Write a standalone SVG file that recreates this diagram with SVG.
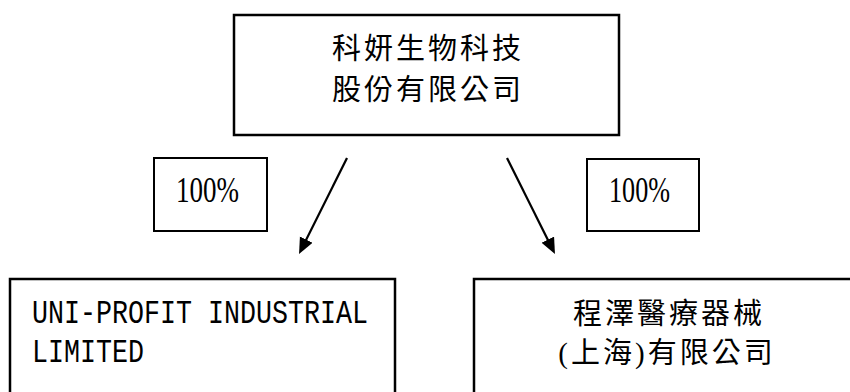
<svg xmlns="http://www.w3.org/2000/svg" width="850" height="392" viewBox="0 0 850 392">
<style>
.box{fill:#fff;stroke:#000;stroke-width:2.5}
.pbox{fill:#fff;stroke:#000;stroke-width:2}
.cjk{font-family:"Liberation Serif","Noto Sans CJK TC",serif;font-size:29px;letter-spacing:3px;fill:#000;text-anchor:middle}
.pct{font-family:"Liberation Serif",serif;font-size:36px;fill:#000}
.mono{font-family:"Liberation Mono",monospace;font-size:33px;fill:#000}
.conn{stroke:#000;stroke-width:2.2;fill:none}
</style>
<defs>
<marker id="ah" markerUnits="userSpaceOnUse" markerWidth="18" markerHeight="16" refX="2" refY="7" orient="auto">
<path d="M0,0 L16,7 L0,14 z" fill="#000"/>
</marker>
</defs>
<rect width="850" height="392" fill="#fff"/>
<g id="parent">
<rect class="box" x="234" y="15" width="385" height="120"/>
<text class="cjk" x="428" y="58.5">科妍生物科技</text>
<text class="cjk" x="428" y="99.5">股份有限公司</text>
</g>
<g id="pct-left">
<rect class="pbox" x="154" y="158" width="113" height="73"/>
<text class="pct" x="176" y="202" textLength="63" lengthAdjust="spacingAndGlyphs">100%</text>
</g>
<g id="pct-right">
<rect class="pbox" x="587" y="159" width="112" height="72"/>
<text class="pct" x="609" y="202" textLength="61" lengthAdjust="spacingAndGlyphs">100%</text>
</g>
<g id="uniprofit">
<rect class="box" x="10" y="279" width="385" height="130"/>
<text class="mono" x="32" y="323" textLength="336" lengthAdjust="spacingAndGlyphs">UNI-PROFIT INDUSTRIAL</text>
<text class="mono" x="32" y="362" textLength="112" lengthAdjust="spacingAndGlyphs">LIMITED</text>
</g>
<g id="chengze">
<rect class="box" x="474" y="279" width="400" height="130"/>
<text class="cjk" x="669" y="323.5">程澤醫療器械</text>
<text class="cjk" x="667" y="362.5">(上海)有限公司</text>
</g>
<g id="connectors">
<line class="conn" x1="347" y1="158" x2="305.3" y2="241.5" marker-end="url(#ah)"/>
<line class="conn" x1="507" y1="158" x2="548.7" y2="241.5" marker-end="url(#ah)"/>
</g>
</svg>
